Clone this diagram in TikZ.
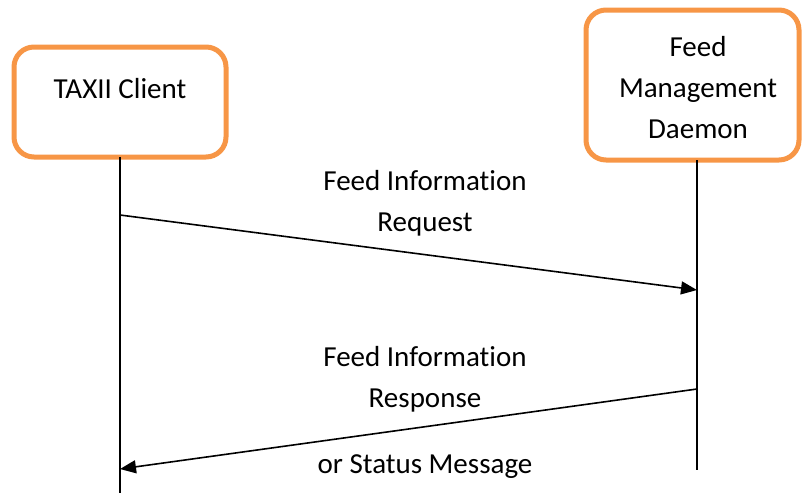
\documentclass[tikz,border=0pt]{standalone}
\usepackage{fontspec}
\setmainfont{Carlito}[RawFeature=-liga]
\usetikzlibrary{arrows.meta}
\definecolor{boxorange}{HTML}{F79646}
\tikzset{
  actor/.style={draw=boxorange, line width=5pt, rounded corners=20pt, fill=white,
    align=center, inner sep=0pt},
  lifeline/.style={line width=1.8pt, black},
  msg/.style={line width=1.6pt, -{Triangle[length=16pt,width=13pt]}},
  lbl/.style={align=center, inner sep=0pt, font=\fontsize{29}{41}\selectfont},
}
\begin{document}
\begin{tikzpicture}[x=1pt, y=-1pt]
  \useasboundingbox (0,0) rectangle (802,493);

  % participants
  \node[actor, minimum width=212pt, minimum height=110pt] (client) at (120,102) {};
  \node[lbl] (clientlbl) at (120,89) {TAXII Client};
  \node[actor, minimum width=213pt, minimum height=150pt] (daemon) at (692.5,85) {};
  \node[lbl] (daemonlbl) at (698,88) {Feed\\Management\\Daemon};

  % lifelines
  \coordinate (cTop) at (120,157);
  \coordinate (cBot) at (120,493);
  \coordinate (dTop) at (697,160);
  \coordinate (dBot) at (697,470);
  \draw[lifeline] (cTop) -- (cBot);
  \draw[lifeline] (dTop) -- (dBot);

  % messages
  \coordinate (reqFrom) at (120,215);
  \coordinate (reqTo) at (697,290);
  \coordinate (resFrom) at (697,389);
  \coordinate (resTo) at (120,469);
  \draw[msg] (reqFrom) -- (reqTo);
  \draw[msg] (resFrom) -- (resTo);

  % message labels
  \node[lbl] (reqlbl) at (425,203) {Feed Information\\Request};
  \node[lbl] (reslbl) at (425,379) {Feed Information\\Response};
  \node[lbl] (statuslbl) at (425,467) {or Status Message};
\end{tikzpicture}
\end{document}
